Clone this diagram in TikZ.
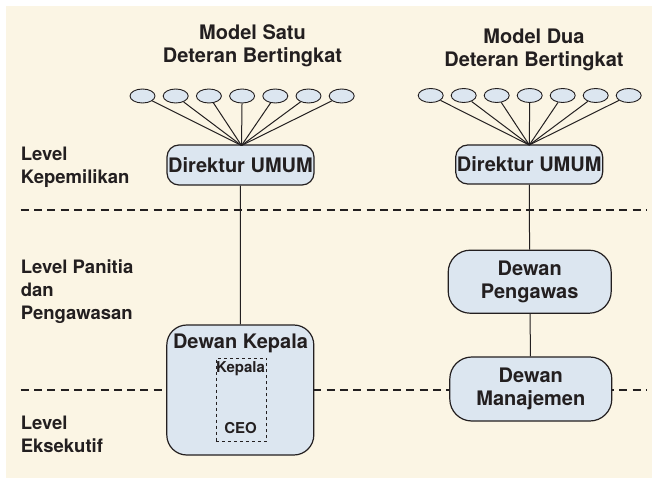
\documentclass[tikz,border=0pt]{standalone}
\usepackage{fontspec}
\setmainfont{TeX Gyre Heros}
\usetikzlibrary{shapes.geometric}
\definecolor{cream}{RGB}{251,245,228}
\definecolor{boxfill}{RGB}{220,230,240}
\definecolor{ink}{RGB}{35,31,32}
\begin{document}
\begin{tikzpicture}[x=1pt,y=-1pt,
  every node/.style={text=ink},
  board/.style={draw=ink, fill=boxfill, line width=1.2pt, inner sep=0pt, align=center,
    font=\bfseries\fontsize{20}{23.5}\selectfont},
  owner/.style={ellipse, draw=ink, fill=boxfill, line width=0.9pt, minimum width=25pt, minimum height=14pt, inner sep=0pt},
  title/.style={align=center, font=\bfseries\fontsize{20}{23}\selectfont},
  level/.style={anchor=west, align=left, inner sep=0pt, font=\bfseries\fontsize{18.5}{23}\selectfont},
  small/.style={inner sep=0pt, font=\bfseries\fontsize{15}{17}\selectfont},
  divider/.style={draw=ink, line width=2.7pt, dash pattern=on 8pt off 5.3pt},
  link/.style={draw=ink, line width=1pt}]
\useasboundingbox (0,0) rectangle (652,478);
\fill [cream] (6,6) rectangle (652,478);
% titles
\node [title] (titleL) at (252.5,46) {Model Satu\\Deteran Bertingkat};
\node [title] (titleR) at (534,50) {Model Dua\\Deteran Bertingkat};
% level labels
\node [level] (lvlown) at (20.7,167) {Level\\Kepemilikan};
\node [level] (lvlsup) at (20.7,291.5) {Level Panitia\\dan\\Pengawasan};
\node [level] (lvlexe) at (20.7,434) {Level\\Eksekutif};
% dividers
\coordinate (d1a) at (20.7,210);
\coordinate (d1b) at (646,210);
\coordinate (d2a) at (20.7,390);
\coordinate (d2b) at (646,390);
\draw [divider] (d1a) -- (d1b);
\draw [divider] (d2a) -- (d2b);
% model satu
\node [board, rounded corners=12pt, minimum width=147pt, minimum height=40pt] (dirL) at (240.5,165) {Direktur UMUM};
\node [owner] (l1) at (142.5,96) {};
\node [owner] (l2) at (175.7,96) {};
\node [owner] (l3) at (208.9,96) {};
\node [owner] (l4) at (242.1,96) {};
\node [owner] (l5) at (275.3,96) {};
\node [owner] (l6) at (308.5,96) {};
\node [owner] (l7) at (341.7,96) {};
\coordinate (hubL) at (241.5,145.5);
\draw [link] (l1) -- (hubL);
\draw [link] (l2) -- (hubL);
\draw [link] (l3) -- (hubL);
\draw [link] (l4) -- (hubL);
\draw [link] (l5) -- (hubL);
\draw [link] (l6) -- (hubL);
\draw [link] (l7) -- (hubL);
\node [board, rounded corners=20pt, minimum width=147pt, minimum height=130pt] (kepala) at (240.3,390) {};
\draw [link] (dirL) -- (kepala);
\node [board, draw=none, fill=none] (kepalatitle) at (240.5,343.5) {Dewan Kepala};
\node [draw=ink, dashed, line width=0.9pt, minimum width=50.7pt, minimum height=83.4pt, inner sep=0pt] (ceobox) at (241.3,400) {};
\node [small] (ceotop) at (240.5,369) {Kepala};
\node [small] (ceo) at (240.5,428.3) {CEO};
% model dua
\node [board, rounded corners=12pt, minimum width=147pt, minimum height=39pt] (dirR) at (529.2,164.5) {Direktur UMUM};
\node [owner] (r1) at (430.7,95.5) {};
\node [owner] (r2) at (463.7,95.5) {};
\node [owner] (r3) at (496.7,95.5) {};
\node [owner] (r4) at (529.7,95.5) {};
\node [owner] (r5) at (562.7,95.5) {};
\node [owner] (r6) at (595.7,95.5) {};
\node [owner] (r7) at (628.7,95.5) {};
\coordinate (hubR) at (529.3,145);
\draw [link] (r1) -- (hubR);
\draw [link] (r2) -- (hubR);
\draw [link] (r3) -- (hubR);
\draw [link] (r4) -- (hubR);
\draw [link] (r5) -- (hubR);
\draw [link] (r6) -- (hubR);
\draw [link] (r7) -- (hubR);
\node [board, rounded corners=22pt, minimum width=163pt, minimum height=63pt] (pengawas) at (529.7,281.7) {Dewan\\Pengawas};
\node [board, rounded corners=22pt, minimum width=162pt, minimum height=64pt] (manajemen) at (530.8,389) {Dewan\\Manajemen};
\draw [link] (dirR) -- (pengawas);
\draw [link] (pengawas) -- (manajemen);
\end{tikzpicture}
\end{document}
